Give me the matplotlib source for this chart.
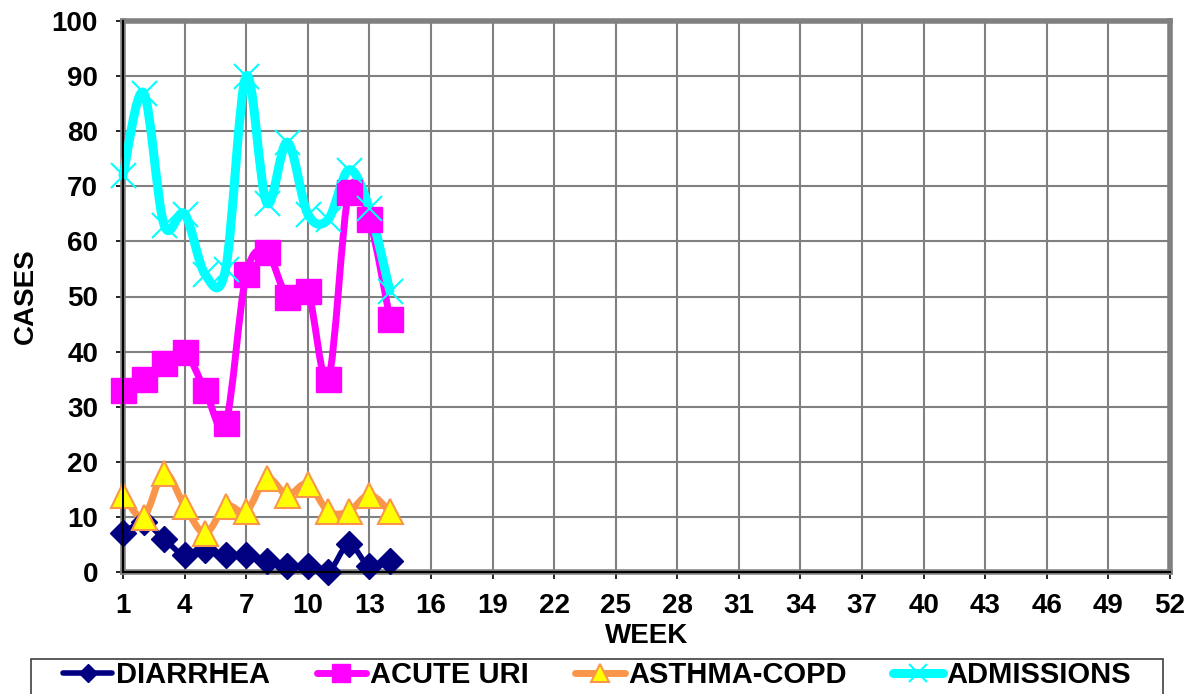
import matplotlib
matplotlib.use("Agg")
import matplotlib.pyplot as plt
from matplotlib.path import Path
from matplotlib.patches import PathPatch, Rectangle
from matplotlib.lines import Line2D

plt.rcParams['font.family'] = ['Liberation Sans', 'DejaVu Sans']

weeks = list(range(1, 15))
diarrhea = [7, 9, 6, 3, 4, 3, 3, 2, 1, 1, 0, 5, 1, 2]
acute_uri = [33, 35, 38, 40, 33, 27, 54, 58, 50, 51, 35, 69, 64, 46]
asthma_copd = [14, 10, 18, 12, 7, 12, 11, 17, 14, 16, 11, 11, 14, 11]
admissions = [72, 87, 63, 65, 54, 55, 90, 67, 78, 65, 64, 73, 66, 51]

x_ticks = list(range(1, 53, 3))
y_ticks = list(range(0, 101, 10))


def smooth_path(xs, ys):
    # excel-style smoothed line: cubic bezier through every point
    pts = list(zip(xs, ys))
    verts = [pts[0]]
    codes = [Path.MOVETO]
    n = len(pts)
    for i in range(n - 1):
        p0 = pts[i - 1] if i > 0 else pts[i]
        p1 = pts[i]
        p2 = pts[i + 1]
        p3 = pts[i + 2] if i + 2 < n else pts[i + 1]
        c1 = (p1[0] + (p2[0] - p0[0]) / 6, p1[1] + (p2[1] - p0[1]) / 6)
        c2 = (p2[0] - (p3[0] - p1[0]) / 6, p2[1] - (p3[1] - p1[1]) / 6)
        verts += [c1, c2, p2]
        codes += [Path.CURVE4] * 3
    return Path(verts, codes)


W, H = 1194, 694
fig = plt.figure(figsize=(W / 100, H / 100), dpi=100)
ax = fig.add_axes([123 / W, 1 - 572 / H, (1170 - 123) / W, (572 - 21) / H])

series = [
    ("DIARRHEA", diarrhea, "#000080", 4, "D", 13, "#000080", "#000080", 1),
    ("ACUTE URI", acute_uri, "#FF00FF", 5, "s", 18, "#FF00FF", "#FF00FF", 1),
    ("ASTHMA-COPD", asthma_copd, "#F9964A", 5, "^", 18, "#FFFF00", "#F9964A", 1.5),
    ("ADMISSIONS", admissions, "#00FFFF", 6.5, "x", 18, "#00FFFF", "#00FFFF", 1.5),
]

handles = []
for name, vals, col, lw, mk, ms, mfc, mec, mew in series:
    ax.add_patch(PathPatch(smooth_path(weeks, vals), fill=False, edgecolor=col,
                           lw=lw, capstyle='round', joinstyle='round', zorder=3,
                           clip_on=False))
    ax.plot(weeks, vals, linestyle='none', marker=mk, markersize=ms,
            markerfacecolor=mfc, markeredgecolor=mec, markeredgewidth=mew,
            zorder=4, clip_on=False)
    handles.append(Line2D([], [], color=col, lw=lw, marker=mk, markersize=ms * 0.7,
                          markerfacecolor=mfc, markeredgecolor=mec,
                          markeredgewidth=mew, solid_capstyle='round'))

ax.set_xlim(1, 52)
ax.set_ylim(0, 100)
ax.set_xticks(x_ticks)
ax.set_xticklabels([str(v) for v in x_ticks], fontsize=20, fontweight='bold')
ax.set_yticks(y_ticks)
ax.set_yticklabels([str(v) for v in y_ticks], fontsize=20, fontweight='bold')
ax.grid(True, color='#808080', lw=1.5, zorder=1)
ax.set_axisbelow(True)
ax.tick_params(axis='both', length=5, width=1.2, color='black')
ax.tick_params(axis='x', pad=10)
ax.tick_params(axis='y', pad=13)

for sp in ax.spines.values():
    sp.set_color('#808080')
    sp.set_linewidth(4)
ax.axhline(0, color='black', lw=1.5, zorder=5, clip_on=False)
ax.axvline(1, color='black', lw=1.5, zorder=5, clip_on=False)

ax.set_xlabel("WEEK", fontsize=20, fontweight='bold', labelpad=3)
ax.set_ylabel("CASES", fontsize=20, fontweight='bold', labelpad=9)

# legend box drawn by hand, entries centred inside it
fig.patches.append(Rectangle((31 / W, -0.02), (1163 - 31) / W, 1 - 659 / H + 0.02,
                             transform=fig.transFigure, fill=False,
                             edgecolor='#404040', lw=1.2))
leg = fig.legend(handles, [s[0] for s in series], loc='upper center', ncol=4,
                 bbox_to_anchor=(597 / W, 1 - 661 / H),
                 prop={'size': 21, 'weight': 'bold'}, frameon=False,
                 handlelength=1.7, handletextpad=0.12, borderpad=0.0,
                 columnspacing=1.6, borderaxespad=0)

fig.savefig("out.png", dpi=100)
